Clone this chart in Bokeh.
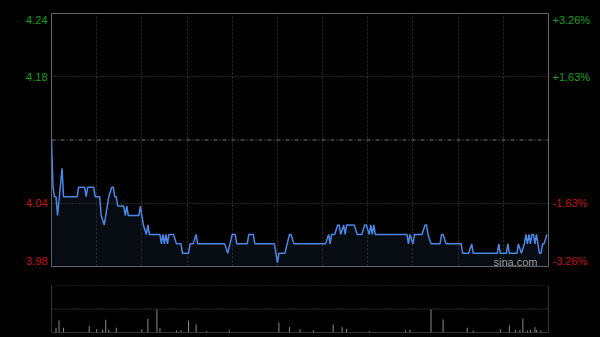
from bokeh.plotting import figure
from bokeh.layouts import column, row
from bokeh.models import Label, Span, FixedTicker, Range1d
from bokeh.core.properties import value
from bokeh.embed import file_html
from bokeh.resources import INLINE

# ---- data ----
prev_close = 4.11
minutes = [0, 1, 2, 3, 4, 7, 8, 17, 18, 22, 23, 24, 28, 29, 32, 33, 35, 37, 38, 40,
           41, 42, 43, 44, 48, 49, 50, 51, 58, 59, 61, 63, 64, 65, 72, 73, 74, 75, 76, 77,
           78, 81, 83, 86, 87, 91, 92, 94, 96, 97, 115, 117, 120, 122, 123, 130, 131, 134, 135, 148,
           150, 151, 155, 158, 159, 161, 182, 184, 185, 186, 188, 190, 191, 192, 194, 195, 196, 201, 203, 206,
           208, 209, 211, 212, 213, 214, 215, 236, 237, 238, 240, 241, 246, 248, 249, 250, 252, 258, 259, 260,
           262, 272, 273, 277, 279, 280, 296, 297, 298, 302, 303, 304, 309, 310, 312, 314, 315, 316, 317, 318,
           319, 320, 321, 322, 323, 324, 325, 326, 327, 329]
prices = [4.11, 4.06, 4.05, 4.05, 4.03, 4.08, 4.05, 4.05, 4.06, 4.06, 4.05, 4.06, 4.06, 4.05, 4.05, 4.03, 4.02, 4.04, 4.05, 4.06,
          4.06, 4.05, 4.05, 4.04, 4.04, 4.03, 4.04, 4.03, 4.03, 4.04, 4.02, 4.01, 4.02, 4.01, 4.01, 4.00, 4.01, 4.00, 4.01, 4.00,
          4.01, 4.01, 4.00, 4.00, 3.99, 3.99, 4.00, 4.00, 4.01, 4.00, 4.00, 3.99, 4.01, 4.01, 4.00, 4.00, 4.01, 4.01, 4.00, 4.00,
          3.98, 3.99, 3.99, 4.01, 4.01, 4.00, 4.00, 4.01, 4.00, 4.01, 4.01, 4.02, 4.02, 4.01, 4.02, 4.01, 4.02, 4.02, 4.01, 4.01,
          4.02, 4.02, 4.01, 4.02, 4.01, 4.02, 4.01, 4.01, 4.00, 4.01, 4.00, 4.01, 4.01, 4.02, 4.02, 4.01, 4.00, 4.00, 4.01, 4.01,
          4.00, 4.00, 3.99, 3.99, 4.00, 3.99, 3.99, 4.00, 3.99, 3.99, 4.00, 3.99, 3.99, 4.00, 3.99, 4.00, 4.01, 4.00, 4.01, 4.00,
          4.01, 4.01, 4.00, 4.01, 4.00, 3.99, 3.99, 4.00, 4.00, 4.01]

vol_minutes = [3, 5, 8, 25, 30, 34, 36, 38, 43, 60, 64, 70, 72, 83, 86, 91, 96, 103, 118, 151,
               158, 165, 174, 187, 193, 196, 211, 235, 238, 252, 260, 276, 280, 298, 304, 308, 311, 313, 316, 318,
               321, 322, 325]
vol_values = [0.40, 1.02, 0.40, 0.54, 0.28, 0.23, 1.08, 0.23, 0.40, 0.28, 1.16, 1.96, 0.37, 0.17, 0.17, 1.02, 0.68, 0.11, 0.20, 0.85,
              0.45, 0.28, 0.17, 0.68, 0.45, 0.31, 0.11, 0.17, 0.23, 1.96, 1.10, 0.40, 0.17, 0.28, 0.60, 0.23, 0.23, 1.16, 0.17, 0.23,
              0.45, 0.23, 0.17]

pct_levels = [0.0326, 0.0163, -0.0163, -0.0326]
left_labels = ["4.24", "4.18", "4.04", "3.98"]
right_labels = ["+3.26%", "+1.63%", "-1.63%", "-3.26%"]
time_grid = [30, 60, 90, 120, 150, 180, 210, 240, 270, 300]

# ---- style ----
BG = "#000000"
GREEN = "#12a012"
RED = "#c81010"
FONT = "Liberation Sans"

ymax = prev_close * (1 + pct_levels[0])
ymin = prev_close * (1 + pct_levels[-1])
yr = Range1d(ymin, ymax)

level_values = [prev_close * (1 + lv) for lv in pct_levels]
level_colors = [GREEN if lv > 0 else RED for lv in pct_levels]
level_offsets = [6, 0, 0, -6]


def side_fig(w):
    f = figure(width=w, height=276, output_backend="svg", toolbar_location=None,
               x_range=Range1d(0, w), y_range=yr,
               min_border_left=0, min_border_right=0, min_border_top=13, min_border_bottom=10)
    f.background_fill_color = BG
    f.border_fill_color = BG
    f.outline_line_color = None
    f.axis.visible = False
    f.grid.visible = False
    return f


lf = side_fig(50)
lf.text(x=[47] * 4, y=level_values, text=left_labels, y_offset=level_offsets,
        text_color=level_colors, text_align="right", text_baseline="middle",
        text_font=value(FONT), text_font_size="11px")

rf = side_fig(51)
rf.text(x=[3] * 4, y=level_values, text=right_labels, y_offset=level_offsets,
        text_color=level_colors, text_align="left", text_baseline="middle",
        text_font=value(FONT), text_font_size="11px")

p = figure(width=499, height=276, output_backend="svg", toolbar_location=None,
           x_range=Range1d(0, 330), y_range=yr,
           min_border_left=1, min_border_right=1, min_border_top=13, min_border_bottom=10)
p.background_fill_color = BG
p.border_fill_color = BG
p.outline_line_color = "#666666"
p.xaxis.visible = False
p.yaxis.visible = False
p.xgrid.ticker = FixedTicker(ticks=time_grid)
p.xgrid.grid_line_color = "#333333"
p.xgrid.grid_line_dash = "2 2"
p.ygrid.ticker = FixedTicker(ticks=[level_values[1], level_values[2]])
p.ygrid.grid_line_color = "#4a4a4a"
p.ygrid.grid_line_dash = "1 2"
p.add_layout(Span(location=prev_close, dimension="width", line_color="#777777",
                  line_dash="4 2 1 2", line_width=1))

p.varea(x=minutes, y1=prices, y2=ymin, fill_color="#16233a", fill_alpha=0.3)
p.line(minutes, prices, line_color="#4a87e6", line_width=1.5)

p.add_layout(Label(x=486, y=ymin, x_units="screen", y_units="data", y_offset=5, text="sina.com",
                   text_align="right", text_baseline="middle", text_color="#9a9a9a",
                   text_font=FONT, text_font_size="11px"))

v = figure(width=600, height=61, output_backend="svg", toolbar_location=None,
           x_range=Range1d(0, 330), y_range=Range1d(0, 4),
           min_border_left=51, min_border_right=52, min_border_top=9, min_border_bottom=5)
v.background_fill_color = BG
v.border_fill_color = BG
v.outline_line_color = None
v.xaxis.visible = False
v.yaxis.visible = False
v.xgrid.visible = False
v.ygrid.visible = False
v.add_layout(Span(location=4, dimension="width", line_color="#666666", line_dash="1 2"))
v.add_layout(Span(location=2, dimension="width", line_color="#666666", line_dash="1 2"))
v.add_layout(Span(location=0, dimension="width", line_color="#666666"))
v.add_layout(Span(location=0, dimension="height", line_color="#666666"))
v.add_layout(Span(location=330, dimension="height", line_color="#666666"))
v.segment(x0=vol_minutes, y0=0, x1=vol_minutes, y1=vol_values, line_color="#8a8a8a", line_width=1)

layout = column(row(lf, p, rf, spacing=0), v, spacing=0)
layout.styles = {"background-color": "black"}
open("out.html", "w").write(file_html(layout, INLINE))
